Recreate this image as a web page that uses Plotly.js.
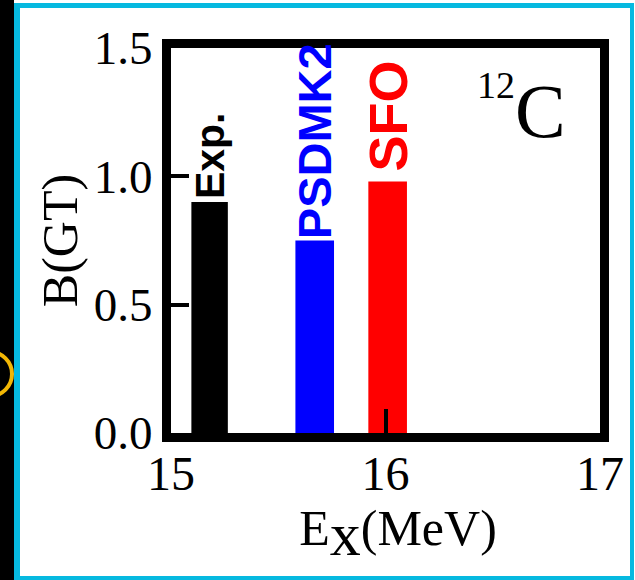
<!DOCTYPE html>
<html>
<head>
<meta charset="utf-8">
<script src="https://cdn.plot.ly/plotly-3.0.1.min.js"></script>
<style>
  html, body { margin: 0; padding: 0; width: 635px; height: 580px; overflow: hidden; background: #ffffff; }
  #strip { position: absolute; left: 0; top: 0; width: 14px; height: 580px; background: #000000; }
  #ring { position: absolute; left: -34px; top: 350px; width: 40px; height: 40px; border: 4px solid #f2b705; border-radius: 50%; }
  #border { position: absolute; left: 14px; top: 3px; width: 620px; height: 577px; box-sizing: border-box;
            border-style: solid; border-color: #06b9e0; border-width: 5px 4px 4px 6px; background: #ffffff; }
  #chart { position: absolute; left: 0; top: 0; width: 635px; height: 580px; }
</style>
</head>
<body>
<div id="strip"></div>
<div id="ring"></div>
<div id="border"></div>
<div id="chart"></div>
<script>
// Gamow-Teller strength of the 12C M1/GT state: experiment vs. shell-model interactions
const energies = [15.18, 15.67, 16.01];          // Ex (MeV)
const bgt = [0.90, 0.75, 0.98];                  // B(GT)
const labels = ['Exp.', 'PSDMK2', 'SFO'];
const xTickVals = [15, 16, 17];
const xTickText = ['15', '16', '17'];
const yTickVals = [0, 0.5, 1.0, 1.5];
const yTickText = ['0.0', '0.5', '1.0', '1.5'];

// styling
const barColors = ['#000000', '#0000ff', '#ff0000'];
const barWidths = [0.17, 0.18, 0.18];
const labelSizes = [41, 47, 54];
const labelGaps = [1, -1, 8];

const serif = 'Liberation Serif, "Times New Roman", Times, serif';
const sans = 'Liberation Sans, Arial, Helvetica, sans-serif';

const trace = {
  type: 'bar',
  x: energies,
  y: bgt,
  width: barWidths,
  marker: { color: barColors, line: { width: 0 } },
  hoverinfo: 'skip'
};

const annotations = labels.map((t, i) => ({
  x: energies[i], y: bgt[i], xref: 'x', yref: 'y',
  text: t, textangle: -90, showarrow: false,
  xanchor: 'center', yanchor: 'bottom', yshift: labelGaps[i],
  font: { family: sans, size: labelSizes[i], color: barColors[i], weight: 'bold' }
}));

// nucleus tag: mass number + element symbol
annotations.push({
  x: 0.708, y: 0.904, xref: 'paper', yref: 'paper', text: '12',
  showarrow: false, xanchor: 'left', yanchor: 'middle',
  font: { family: serif, size: 38, color: '#000' }
});
annotations.push({
  x: 0.798, y: 0.836, xref: 'paper', yref: 'paper', text: 'C',
  showarrow: false, xanchor: 'left', yanchor: 'middle',
  font: { family: serif, size: 76, color: '#000' }
});

const layout = {
  width: 635, height: 580,
  margin: { l: 171, r: 35, t: 48, b: 147, pad: 0 },
  paper_bgcolor: 'rgba(0,0,0,0)',
  plot_bgcolor: '#ffffff',
  showlegend: false,
  xaxis: {
    range: [15, 17], tickmode: 'array', tickvals: xTickVals, ticktext: xTickText,
    ticks: 'inside', ticklen: 24, tickwidth: 4, tickcolor: '#000',
    showline: true, linewidth: 9, linecolor: '#000', mirror: true,
    showgrid: false, zeroline: false, fixedrange: true,
    ticklabelstandoff: -10,
    tickfont: { family: serif, size: 48, color: '#000' },
    title: {
      text: '&nbsp;&nbsp;E<sub><span style="font-size:62px">x</span></sub>(MeV)',
      font: { family: serif, size: 50, color: '#000' }, standoff: 8
    }
  },
  yaxis: {
    range: [0, 1.5], tickmode: 'array', tickvals: yTickVals, ticktext: yTickText,
    ticks: 'inside', ticklen: 18, tickwidth: 4, tickcolor: '#000',
    showline: true, linewidth: 9, linecolor: '#000', mirror: true,
    showgrid: false, zeroline: false, fixedrange: true,
    tickfont: { family: serif, size: 47, color: '#000' },
    title: { text: 'B(GT)', font: { family: serif, size: 50, color: '#000' }, standoff: 4 }
  },
  annotations: annotations
};

Plotly.newPlot('chart', [trace], layout, { staticPlot: true, displayModeBar: false });
</script>
</body>
</html>
